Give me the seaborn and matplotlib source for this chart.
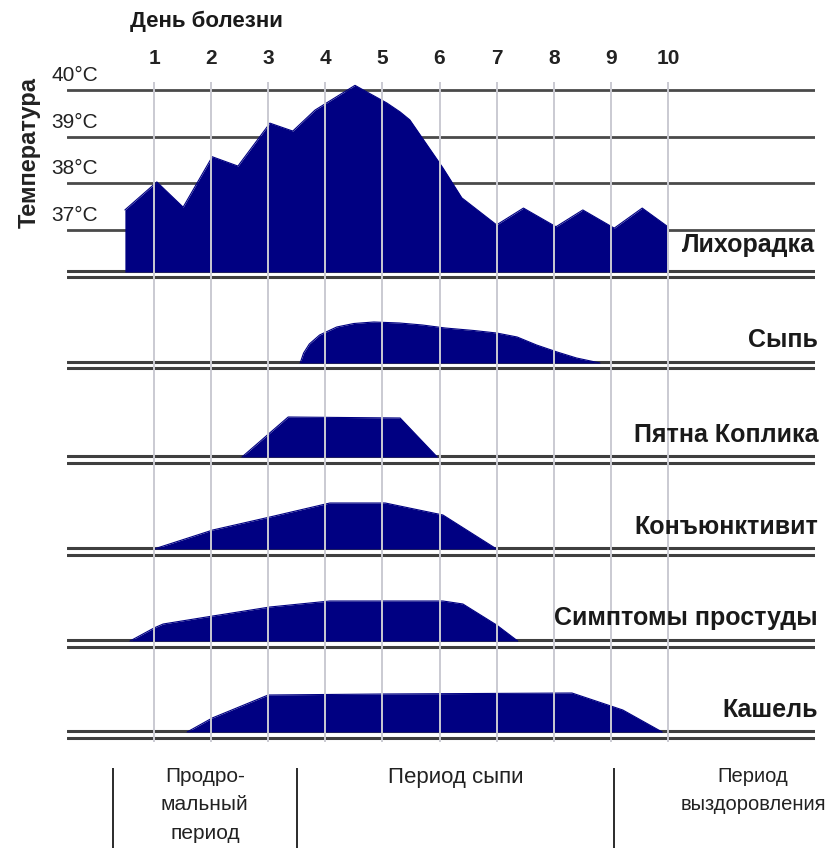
import matplotlib
matplotlib.use('Agg')
import matplotlib.pyplot as plt
import seaborn as sns

sns.set_theme(style='white')
plt.rcParams['font.family'] = ['Liberation Sans', 'DejaVu Sans']

# values (x = day of illness)
days = [1, 2, 3, 4, 5, 6, 7, 8, 9, 10]
temp_levels = [37, 38, 39, 40]

fever_day = [0.49, 1.05, 1.51, 2.02, 2.47, 3.03, 3.43, 3.82, 4.52, 5.08,
             5.31, 5.48, 6.06, 6.39, 7.0, 7.47, 8.04, 8.51, 9.06, 9.55, 10.0]
fever_temp = [37.43, 38.03, 37.49, 38.57, 38.37, 39.29, 39.12, 39.57, 40.10, 39.72,
              39.53, 39.36, 38.33, 37.69, 37.11, 37.47, 37.07, 37.43, 37.04, 37.47, 37.07]

rash_day = [3.56, 3.62, 3.72, 3.9, 4.2, 4.5, 4.85, 5.3, 5.7, 6.1, 6.6, 7.0, 7.36, 7.7, 8.06, 8.4, 8.81]
rash_val = [0, 10, 19, 28, 36, 39.5, 41, 40, 38, 35, 32.5, 30, 26, 18, 11, 5, 0]

koplik_day = [2.54, 3.35, 5.31, 5.96]
koplik_val = [0, 40, 39, 0]

conj_day = [1.0, 2.03, 3.03, 4.08, 5.05, 6.06, 7.0]
conj_val = [0, 19, 32, 46, 46, 34, 0]

cold_day = [0.58, 1.0, 1.16, 2.03, 3.03, 4.08, 6.06, 6.41, 7.0, 7.37]
cold_val = [0, 13, 17, 25, 34, 40, 40, 37, 16, 0]

cough_day = [1.58, 2.02, 3.0, 5.0, 8.32, 9.21, 9.9]
cough_val = [0, 14, 37, 38, 39, 22, 0]

symptom_names = ['Сыпь', 'Пятна Коплика', 'Конъюнктивит', 'Симптомы простуды', 'Кашель']
symptom_days = [rash_day, koplik_day, conj_day, cold_day, cough_day]
symptom_vals = [rash_val, koplik_val, conj_val, cold_val, cough_val]

periods = ['Продро-\nмальный\nпериод', 'Период сыпи', 'Период\nвыздоровления']
period_bounds = [0.28, 3.5, 9.06]
period_centers = [1.89, 6.28, 11.49]
period_sizes = [15, 16, 14.5]

# layout (pixels of the 836x852 picture)
W, H = 836, 852
L, R = 67, 815
day1_px, day_px = 154, 57.1
xlim = (1 + (L - day1_px) / day_px, 1 + (R - day1_px) / day_px)
navy = '#000082'
vgrey = '#cacad2'
dgrey = '#3f3f3f'


def rect(top, bottom):
    return [L / W, 1 - bottom / H, (R - L) / W, (bottom - top) / H]


def T(ypx):
    # 40C at y=90, 37C at y=230
    return 40 - (ypx - 90) / 46.67


fig = plt.figure(figsize=(W / 100, H / 100), dpi=100)

# temperature panel
ax = fig.add_axes(rect(82, 281))
for t in temp_levels:
    ax.axhline(t, color='#4a4a4a', lw=2.0, zorder=1)
    ax.text(-0.021, t + 0.11, '%d°C' % t, transform=ax.get_yaxis_transform(),
            ha='left', va='bottom', fontsize=15, color='#222222', clip_on=False)
ax.fill_between(fever_day, fever_temp, T(272), color=navy, lw=0, zorder=3)
sns.lineplot(x=fever_day, y=fever_temp, ax=ax, color=navy, lw=0.8, zorder=3)
ax.axhline(T(271), color=dgrey, lw=2.2, zorder=2)
ax.axhline(T(277.5), color=dgrey, lw=2.2, zorder=2)
for d in days:
    ax.axvline(d, color=vgrey, lw=1.4, zorder=5)
ax.set_xlim(xlim)
ax.set_ylim(T(281), T(82))
ax.xaxis.tick_top()
ax.set_xticks(days)
ax.set_xticklabels([str(d) for d in days], fontsize=15, fontweight='bold', color='#222222')
ax.tick_params(axis='x', length=0, pad=10)
ax.set_yticks([])
for s in ax.spines.values():
    s.set_visible(False)
fig.text(R / W, 1 - 245 / H, 'Лихорадка', ha='right', va='center',
         fontsize=18, fontweight='bold', color='#1a1a1a')

# symptom panels
baselines = [363, 457, 549, 641, 732]
label_y = [340, 435, 527, 618, 710]
top = 281
for name, xd, yv, base, ly in zip(symptom_names, symptom_days, symptom_vals, baselines, label_y):
    bottom = base + 9.5
    ax = fig.add_axes(rect(top, bottom))
    ax.fill_between(xd, yv, 0, color=navy, lw=0, zorder=3)
    sns.lineplot(x=xd, y=yv, ax=ax, color=navy, lw=0.8, zorder=3)
    ax.axhline(1.0, color=dgrey, lw=2.2, zorder=2)
    ax.axhline(-5.5, color=dgrey, lw=2.2, zorder=2)
    for d in days:
        ax.axvline(d, color=vgrey, lw=1.4, zorder=5)
    ax.set_xlim(xlim)
    ax.set_ylim(-9.5, base - top)
    ax.set_axis_off()
    fig.text(818 / W, 1 - ly / H, name, ha='right', va='center',
             fontsize=18, fontweight='bold', color='#1a1a1a')
    top = bottom

# periods
ax = fig.add_axes(rect(755, 852))
ax.set_xlim(xlim)
ax.set_ylim(852, 755)
ax.vlines(period_bounds, 768, 848, color='#1a1a1a', lw=1.3)
for c, p, fs in zip(period_centers, periods, period_sizes):
    ax.text(c, 767, p, ha='center', va='top', fontsize=fs, color='#222222',
            linespacing=1.62)
ax.set_axis_off()

fig.text(29 / W, 1 - 153 / H, 'Температура', rotation=90, ha='center', va='center',
         fontsize=17, fontweight='bold', color='#222222')
fig.text(130 / W, 1 - 21 / H, 'День болезни', ha='left', va='center',
         fontsize=16, fontweight='bold', color='#1a1a1a')

fig.savefig('out.png', dpi=100)
